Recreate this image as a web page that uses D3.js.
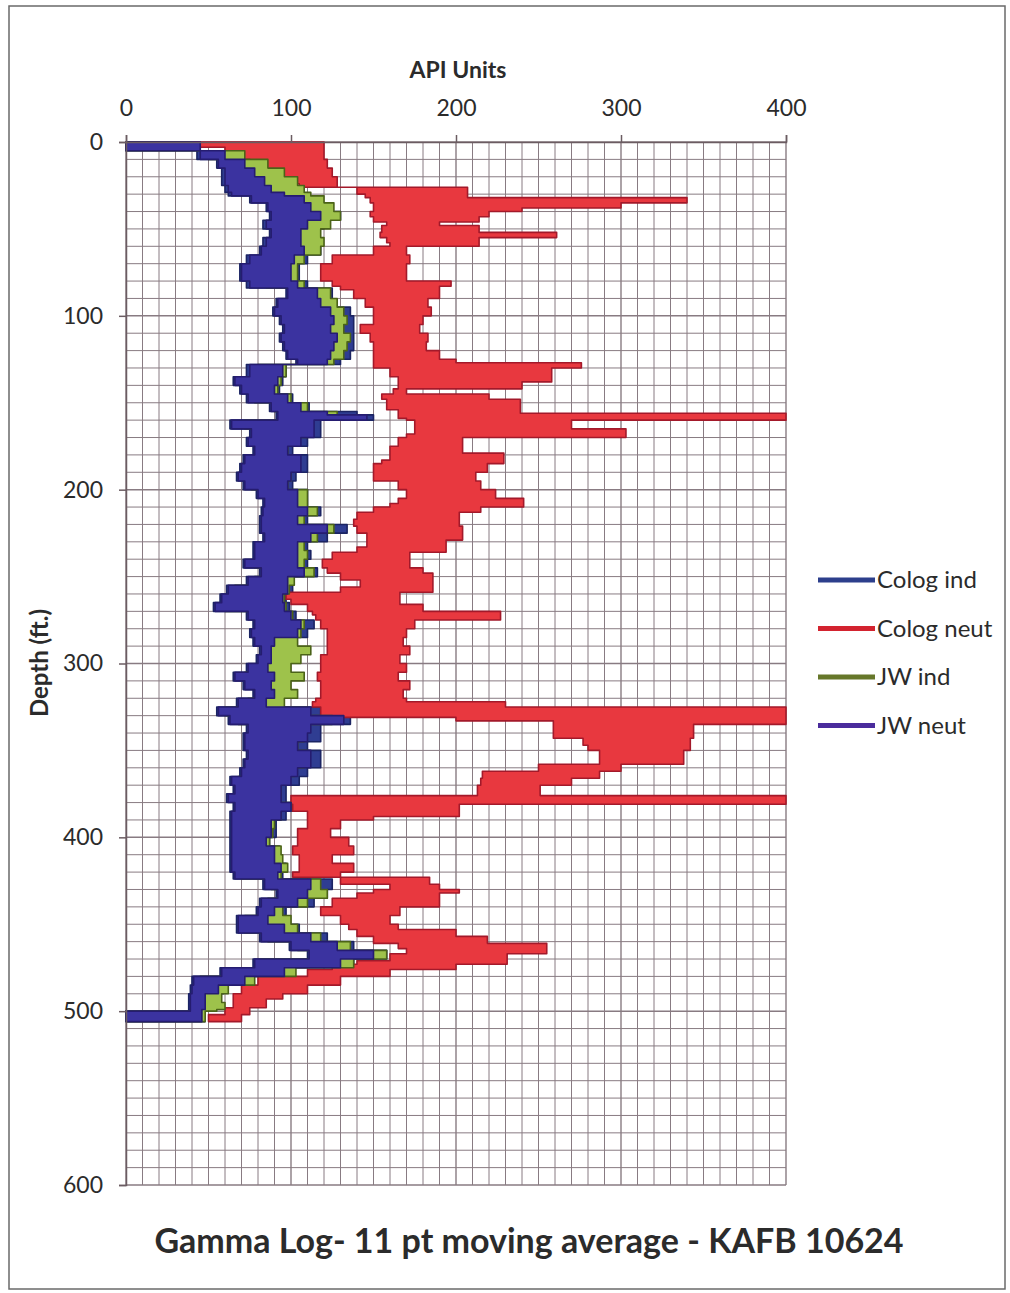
<!DOCTYPE html>
<html>
<head>
<meta charset="utf-8">
<script src="https://cdn.jsdelivr.net/npm/d3@7"></script>
<style>
  body { margin: 0; background: #fff; }
  text { font-family: Lato, "Open Sans", sans-serif; fill: #2b2b2b; }
</style>
</head>
<body>
<div id="chart"></div>
<script>
// Colog neut (red) - depth, left edge, right edge of the trace
const neutDepth = [0,3,6,10,15,20,24,26,30,32,35,38,40,43,46,48,52,55,58,60,65,70,75,80,83,85,90,95,100,105,110,115,120,125,127,130,135,138,142,145,148,154,156,159,160,165,168,170,175,179,183,185,190,195,200,205,208,210,213,217,221,225,229,233,236,240,245,248,252,256,259,263,266,270,272,275,280,285,290,295,300,305,310,315,320,322,325,329,331,333,335,340,343,347,350,355,358,362,366,370,374,376,379,381,385,388,390,395,400,405,410,415,420,423,427,430,432,435,440,445,450,453,457,461,464,467,471,473,476,480,485,490,493,496,498,502,506]
const cologNeutLo = [0,60,68,75,85,95,105,140,145,148,150,150,148,150,158,155,154,158,160,150,125,118,118,125,130,138,145,150,150,142,148,150,150,150,150,160,165,165,162,155,158,165,165,170,175,175,170,165,160,160,155,150,150,165,170,165,160,150,140,138,140,146,146,140,125,119,122,130,142,130,97,100,110,113,115,118,122,122,122,118,118,116,118,118,115,113,118,118,200,259,259,259,277,280,287,287,250,216,215,213,213,100,100,101,110,110,110,104,104,101,105,105,101,130,160,150,140,125,118,130,135,140,150,165,170,160,140,125,110,80,70,65,65,65,60,50,50]
const cologNeutHi = [120,120,120,122,125,128,128,207,207,340,300,240,220,214,190,214,261,214,214,170,172,170,170,197,190,190,183,185,180,178,183,182,190,200,276,258,258,240,170,220,239,239,400,400,270,303,303,204,204,229,229,219,212,215,224,241,241,215,202,202,204,204,194,194,172,172,180,186,186,186,166,166,180,227,227,175,170,168,172,166,170,165,172,168,170,230,400,400,400,400,344,344,342,342,338,338,300,287,270,251,251,400,400,202,202,150,130,124,135,138,125,138,130,184,190,202,190,190,166,160,165,200,219,255,255,231,231,200,160,130,110,95,85,85,75,70,70]

// Colog ind, JW ind, JW neut share the same depth readings
const bandDepth = [0,3,5,10,15,20,25,29,31,35,40,45,50,55,60,65,70,75,80,84,90,95,100,105,110,115,120,125,128,135,140,145,150,155,157,160,165,170,175,180,185,190,195,200,205,210,215,220,225,230,235,240,245,250,255,260,265,270,275,280,285,290,295,300,305,310,315,320,325,330,335,340,345,350,355,360,365,370,375,380,385,390,395,400,405,410,415,420,424,430,435,440,445,450,455,460,465,470,475,480,485,490,495,499,500,506]
const cologIndLo = [0,0,43,55,58,58,60,62,75,85,87,83,87,83,81,73,69,69,73,97,91,89,93,95,93,95,97,103,73,65,69,73,87,91,91,63,75,73,77,71,69,67,71,79,83,82,81,81,83,77,77,71,81,73,61,57,53,73,77,75,77,81,79,73,65,71,77,67,55,62,73,71,71,73,71,69,63,65,61,65,63,63,63,63,63,63,63,65,83,91,81,79,67,67,81,99,110,77,57,40,39,38,38,38,0,0]
const cologIndHi = [45,45,61,77,81,89,91,100,118,125,130,120,116,114,118,110,105,105,110,125,125,136,138,138,138,138,136,130,97,95,93,101,111,140,150,118,118,110,101,110,110,103,101,110,110,118,110,134,122,110,112,110,116,101,101,97,99,103,114,110,93,91,91,89,95,93,95,87,118,136,118,118,110,118,118,110,105,97,97,105,97,91,91,87,93,93,97,95,125,122,114,97,93,105,122,138,158,138,101,77,59,50,50,48,48,48]
const jwIndLo = [0,0,50,60,65,75,80,85,95,100,100,95,95,95,92,85,80,80,85,105,105,108,110,110,108,110,108,105,80,72,75,78,90,100,100,72,80,78,80,76,74,72,76,85,88,88,86,88,90,84,84,78,86,78,66,62,60,78,82,80,82,86,84,80,72,78,82,74,60,68,78,76,76,78,76,74,68,70,66,70,68,68,68,68,68,68,68,70,88,95,86,84,72,72,86,104,115,82,62,45,46,46,46,44,0,0]
const jwIndHi = [40,42,72,86,96,104,108,112,120,126,130,124,118,120,118,108,104,104,108,124,128,132,134,132,136,134,132,126,97,94,92,100,110,128,130,108,110,104,98,104,104,100,98,110,110,116,108,126,116,108,110,108,114,102,99,96,97,101,108,106,104,112,106,100,108,100,104,96,110,125,110,108,104,110,108,102,98,94,94,100,94,90,89,87,94,95,98,94,118,122,110,95,100,104,118,136,158,138,103,78,62,58,60,55,48,48]
const jwNeutLo = [0,0,45,56,60,60,62,64,76,86,88,85,88,85,82,75,70,70,75,98,92,90,94,96,94,96,98,104,75,66,70,74,88,92,92,64,76,74,78,72,70,68,72,80,84,83,82,82,84,78,78,72,82,74,62,58,54,74,78,76,78,82,80,74,66,72,78,68,56,63,74,72,72,74,72,70,64,66,62,66,64,64,64,64,64,64,64,66,84,92,82,80,68,68,82,100,111,78,58,41,40,39,39,39,0,0]
const jwNeutHi = [45,45,60,72,78,84,88,96,108,112,118,110,106,106,108,102,100,100,104,116,118,124,126,124,128,126,124,122,95,92,90,98,106,122,146,114,114,106,98,106,106,100,98,104,104,110,104,122,112,104,104,104,108,98,98,95,96,100,106,104,90,88,88,86,90,88,90,85,112,132,112,110,104,112,112,104,100,94,94,100,94,88,88,85,90,90,94,92,112,110,104,90,86,96,112,128,150,130,96,72,56,48,48,46,46,46]

const xTicks = [0, 100, 200, 300, 400]
const yTicks = [0, 100, 200, 300, 400, 500, 600]
const seriesNames = ["Colog ind", "Colog neut", "JW ind", "JW neut"]
const legendColors = ["#2c3f8c", "#d3232f", "#66772a", "#4a2c9c"]

const width = 1010, height = 1293

const svg = d3.select("#chart").append("svg")
  .attr("width", width)
  .attr("height", height)

// scanned page frame
svg.append("rect")
  .attr("x", 9).attr("y", 6)
  .attr("width", 996).attr("height", 1283)
  .attr("fill", "none")
  .attr("stroke", "#6a6a6a")
  .attr("stroke-width", 1.5)

const x = d3.scaleLinear().domain([0, 400]).range([126, 786])
const y = d3.scaleLinear().domain([0, 600]).range([142, 1185])

// grid
const grid = svg.append("g").attr("stroke", "#887b82").attr("stroke-width", 1)
grid.selectAll(".vg").data(d3.range(0, 401, 10)).enter().append("line")
  .attr("x1", d => x(d)).attr("x2", d => x(d))
  .attr("y1", y(0)).attr("y2", y(600))
  .attr("stroke-width", d => d % 100 === 0 ? 1.4 : 1)
grid.selectAll(".hg").data(d3.range(0, 601, 10)).enter().append("line")
  .attr("x1", x(0)).attr("x2", x(400))
  .attr("y1", d => y(d)).attr("y2", d => y(d))
  .attr("stroke-width", d => d % 100 === 0 ? 1.5 : 1)

// traces
function band(depths, lo, hi) {
  return depths.map((d, i) => ({ d: d, lo: lo[i], hi: hi[i] }))
}
const area = d3.area()
  .y(p => y(p.d))
  .x0(p => x(p.lo))
  .x1(p => x(p.hi))
  .curve(d3.curveStepBefore)

const traces = [
  { data: band(bandDepth, cologIndLo, cologIndHi), fill: "#2f3d92", stroke: "#1b2463" },
  { data: band(neutDepth, cologNeutLo, cologNeutHi), fill: "#e8383f", stroke: "#a3192a" },
  { data: band(bandDepth, jwIndLo, jwIndHi), fill: "#9ec24b", stroke: "#4b6318" },
  { data: band(bandDepth, jwNeutLo, jwNeutHi), fill: "#3b33a0", stroke: "#251c70" }
]
svg.append("g").selectAll("path").data(traces).enter().append("path")
  .attr("d", t => area(t.data))
  .attr("fill", t => t.fill)
  .attr("stroke", t => t.stroke)
  .attr("stroke-width", 1.6)
  .attr("stroke-linejoin", "round")

// axes
const xAxis = svg.append("g")
  .attr("transform", `translate(0,${y(0)})`)
  .call(d3.axisTop(x).tickValues(xTicks).tickSize(7).tickPadding(19).tickFormat(d3.format("d")))
const yAxis = svg.append("g")
  .attr("transform", `translate(${x(0)},0)`)
  .call(d3.axisLeft(y).tickValues(yTicks).tickSize(7).tickPadding(16).tickFormat(d3.format("d")))
;[xAxis, yAxis].forEach(a => {
  a.selectAll("path, line").attr("stroke", "#6b5c62").attr("stroke-width", 1.5)
  a.selectAll("text").attr("font-size", 23).attr("fill", "#2b2b2b")
    .style("font-family", "Lato, 'Open Sans', sans-serif")
})

svg.append("text")
  .attr("x", 458).attr("y", 78)
  .attr("text-anchor", "middle")
  .attr("font-weight", "bold")
  .attr("font-size", 23)
  .text("API Units")

svg.append("text")
  .attr("transform", "translate(48,663) rotate(-90)")
  .attr("text-anchor", "middle")
  .attr("font-weight", "bold")
  .attr("font-size", 24)
  .text("Depth (ft.)")

svg.append("text")
  .attr("x", 529).attr("y", 1253)
  .attr("text-anchor", "middle")
  .attr("font-weight", "bold")
  .attr("font-size", 34)
  .text("Gamma Log- 11 pt moving average - KAFB 10624")

// legend
const legend = svg.append("g").selectAll("g").data(seriesNames).enter().append("g")
  .attr("transform", (d, i) => `translate(818,${580 + i * 48.5})`)
legend.append("line")
  .attr("x1", 0).attr("x2", 57)
  .attr("stroke", (d, i) => legendColors[i])
  .attr("stroke-width", 5)
legend.append("text")
  .attr("x", 59).attr("dy", "0.35em")
  .attr("font-size", 24)
  .text(d => d)
</script>
</body>
</html>
